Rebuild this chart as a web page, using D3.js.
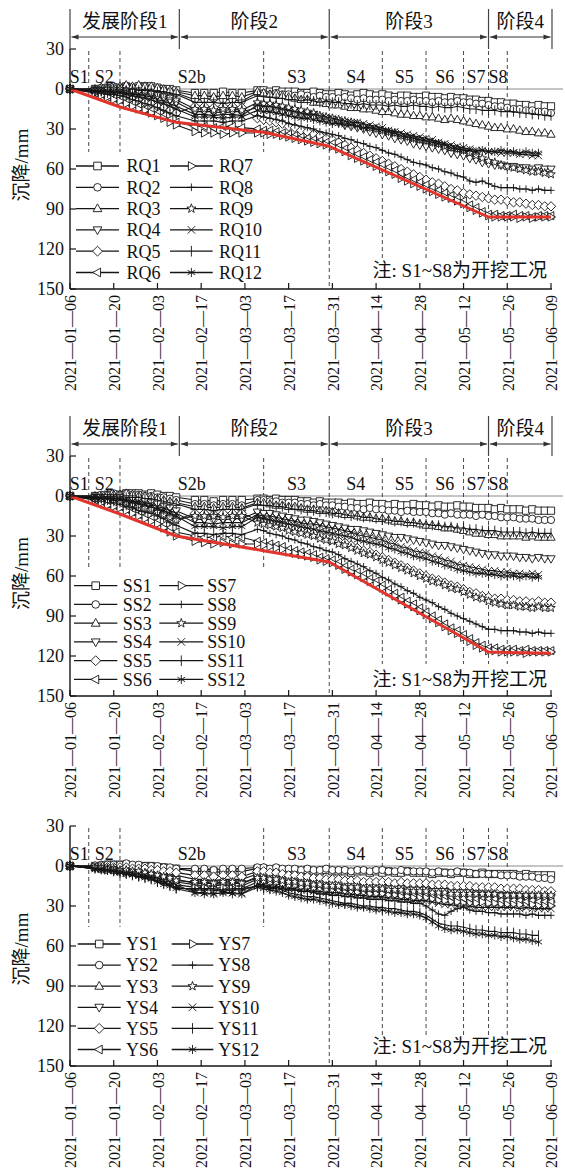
<!DOCTYPE html>
<html>
<head>
<meta charset="utf-8">
<script src="https://cdn.jsdelivr.net/npm/d3@7/dist/d3.min.js"></script>
<style>
  body { margin: 0; background: #fff; }
  svg { display: block; }
  text { font-family: "Liberation Serif", "Noto Sans CJK SC", serif; fill: #111; }
</style>
</head>
<body>
<svg id="chart" width="565" height="1174"></svg>
<script>
// ---- observation dates (2021, MM-DD) ----
const dates = ["01-06",
  "01-14","01-16","01-18","01-20","01-22","01-24","01-26","01-28","01-30","02-01","02-03","02-05","02-07","02-09",
  "02-15","02-18","02-21","02-24","02-27","03-02",
  "03-07","03-09","03-11","03-13","03-15","03-17","03-19","03-21","03-23","03-25","03-27","03-29","03-31",
  "04-02","04-04","04-06","04-08","04-10","04-12","04-14","04-16","04-18","04-20","04-22","04-24","04-26","04-28","04-30",
  "05-02","05-04","05-06","05-08","05-10","05-12","05-14","05-16","05-18","05-20","05-22","05-24","05-26","05-28","05-30",
  "06-01","06-03","06-05","06-07","06-09"];

// ---- settlement (mm), group RQ ----
const RQ1 = [0, 0,0,-1,-1,-1,-2,-1,-2,-2,-2,-1,0,0,1, 3,3,3,2,3,3, 1, 1,2,1,2,2, 2,3,3,2,3,4,4, 3,4,5,4,3,4,5, 4,5,6,5,5,6,6, 5,6,6,7,6,7,7, 8,8,9,9, 10,10,11, 11,12,12,13,12,13,13];
const RQ2 = [0, 0,-1,-1,-2,-1,-2,-1,-1,-2,-1,0,1,2,3, 8,8,7,8,8,9, 3, 3,4,3,4,4, 5,4,5,6,5,6,6, 7,6,7,8,7,8,8, 8,9,8,9,9,8,9, 9,10,9,10,10,9,10, 10,11,11,12, 13,13,14, 15,15,16,16,17,17,18];
const RQ3 = [0, 0,-1,-1,-2,-2,-3,-2,-3,-2,-2,-1,0,1,2, 5,5,6,5,5,6, 2, 3,4,4,5,6, 7,8,8,10,10,11,12, 12,13,14,14,15,15,16, 17,17,18,19,19,20,20, 21,21,22,23,22,23,24, 25,26,27,28, 29,29,30, 30,31,32,32,33,33,34];
const RQ4 = [0, 1,1,1,1,1,2,2,3,3,4,5,7,8,10, 17,17,17,18,17,17, 14, 15,15,16,17,18, 19,19,20,21,22,23,24, 25,27,28,29,30,32,33, 34,35,37,38,39,41,42, 43,44,45,46,48,49,50, 52,53,55,56, 57,57,58, 58,59,59,60,59,60,60];
const RQ5 = [0, 2,2,3,4,5,6,7,8,10,11,13,14,16,18, 13,13,14,13,13,14, 22, 23,24,25,26,28, 29,31,32,34,35,37,38, 40,42,44,46,48,50,52, 54,56,58,60,62,64,66, 68,70,71,73,75,76,78, 79,80,81,82, 83,83,84, 85,85,86,87,87,88,88];
const RQ6 = [0, 3,4,6,7,8,10,11,13,15,16,18,20,23,25, 28,28,29,28,28,29, 30, 31,31,32,33,34, 35,36,37,38,39,40,41, 43,45,47,49,51,53,55, 57,59,61,63,66,68,70, 72,74,76,78,80,82,84, 87,89,92,94, 94,95,95, 94,95,95,96,95,95,95];
const RQ7 = [0, 3,5,6,8,9,11,13,15,16,18,20,22,25,27, 32,33,33,34,33,33, 33, 33,34,34,35,36, 37,38,39,40,41,42,43, 45,47,50,52,54,56,58, 60,62,64,67,69,71,73, 75,77,79,81,82,84,86, 89,91,93,95, 96,96,96, 96,97,96,97,96,96,96];
const RQ8 = [0, 2,3,4,4,5,6,8,9,11,12,14,16,18,20, 24,24,24,25,24,24, 20, 21,22,23,24,26, 27,28,29,30,32,33,34, 35,37,38,40,41,43,44, 46,48,49,51,53,55,56, 57,59,60,62,63,65,66, 69,70,69,71, 73,74,74, 74,75,75,76,75,76,76];
const RQ9 = [0, 1,1,0,0,0,1,1,2,2,3,4,5,6,8, 15,15,16,15,15,16, 10, 11,11,12,13,14, 15,16,17,18,20,21,22, 23,24,25,26,28,29,30, 31,32,33,35,36,37,38, 39,40,41,43,44,45,46, 48,50,52,54, 55,57,58, 59,60,61,62,62,63,64];
const RQ10 = [0, 1,1,2,2,2,3,4,4,5,6,8,9,11,13, 19,19,20,19,19,20, 12, 13,13,14,15,16, 17,18,19,19,20,21,22, 23,24,25,25,26,27,28, 29,31,32,33,34,35,36, 37,38,40,41,42,43,44, 45,46,46,47, 47,48,48, 48,49,49,50,50,null,null];
const RQ11 = [0, 1,1,0,0,0,1,0,1,1,1,2,2,3,4, 10,10,10,11,10,10, 5, 6,6,7,7,8, 8,9,8,9,10,9,10, 10,11,11,12,11,12,12, 12,13,12,13,13,12,13, 13,14,13,14,14,13,14, 15,15,16,16, 16,17,17, 17,18,18,19,19,20,20];
const RQ12 = [0, 2,2,2,3,3,4,5,6,7,8,10,11,13,15, 21,21,21,22,21,21, 16, 17,17,18,19,20, 21,22,22,23,24,25,26, 26,27,27,28,29,29,30, 31,32,33,35,36,37,38, 39,40,41,42,44,45,46, 46,47,46,47, 47,46,47, 47,48,47,48,48,null,null];

// ---- settlement (mm), group SS ----
const SS1 = [0, 0,0,-1,-1,-1,-2,-2,-2,-1,-2,-1,0,0,1, 3,3,4,3,3,3, 2, 2,3,2,3,3, 3,4,4,5,4,5,5, 5,6,5,6,6,5,6, 6,7,6,7,7,6,7, 7,8,7,8,8,7,8, 8,9,9,9, 10,9,10, 10,10,11,10,11,11,11];
const SS2 = [0, 0,-1,-1,-2,-1,-2,-1,-1,0,0,1,1,2,3, 6,6,7,6,6,7, 3, 3,4,4,5,5, 5,6,6,7,6,7,7, 8,8,9,9,10,9,10, 10,11,11,12,11,12,12, 12,13,13,14,13,14,14, 14,15,14,15, 15,16,16, 16,17,17,17,18,18,18];
const SS3 = [0, 0,0,-1,-1,-1,-2,-1,0,0,1,2,3,4,5, 8,8,9,8,8,9, 5, 5,6,7,7,8, 8,9,10,10,11,11,12, 13,14,14,15,16,16,17, 17,18,19,19,20,20,21, 22,22,23,24,24,25,26, 27,28,28,29, 29,30,30, 30,30,31,30,31,31,31];
const SS4 = [0, 1,1,1,1,1,2,2,3,4,5,6,8,9,11, 17,18,17,18,17,17, 12, 13,13,14,15,16, 17,18,18,19,20,21,22, 23,24,25,25,26,27,28, 29,30,31,31,32,33,34, 35,36,37,37,38,39,40, 41,42,43,44, 44,45,45, 45,46,46,47,46,47,47];
const SS5 = [0, 2,2,3,3,4,5,6,8,9,10,12,14,16,18, 13,13,14,13,13,13, 18, 19,20,21,22,24, 25,26,27,28,30,31,32, 34,35,37,39,41,42,44, 46,48,50,52,54,56,58, 60,62,63,65,67,68,70, 72,73,75,76, 77,77,78, 78,79,79,80,79,80,80];
const SS6 = [0, 3,4,6,7,8,10,12,14,15,17,19,22,24,27, 30,31,31,30,31,31, 34, 35,36,37,38,40, 41,42,43,44,46,47,48, 50,53,55,57,59,62,64, 67,70,73,76,79,81,84, 87,90,93,96,99,101,104, 107,110,112,114, 114,115,115, 115,116,115,116,116,116,116];
const SS7 = [0, 3,5,7,8,9,11,13,15,17,19,21,24,27,30, 34,35,36,35,36,36, 36, 37,38,39,40,42, 43,44,45,46,48,49,50, 52,55,57,59,61,64,66, 69,72,75,78,81,83,86, 89,92,95,98,101,103,106, 109,112,114,116, 116,117,117, 117,117,118,117,117,117,117];
const SS8 = [0, 2,3,4,5,6,8,9,11,12,13,15,17,20,22, 28,28,29,28,28,29, 25, 26,28,29,30,32, 33,35,36,38,39,41,42, 44,47,49,51,53,56,58, 61,63,66,68,71,73,76, 78,80,83,85,88,90,92, 94,96,98,100, 100,101,101, 101,102,102,103,102,103,103];
const SS9 = [0, 2,2,3,3,4,5,6,7,9,10,12,14,16,18, 15,15,15,16,15,15, 20, 21,22,23,24,26, 27,28,29,30,32,33,34, 36,37,39,41,43,44,46, 48,50,52,54,56,58,60, 62,64,65,67,69,70,72, 74,76,77,79, 80,81,82, 82,83,83,84,83,84,84];
const SS10 = [0, 1,1,2,2,2,3,4,4,5,6,8,9,11,13, 20,20,21,20,20,20, 14, 15,15,16,17,18, 19,20,21,21,22,23,24, 25,26,27,29,30,31,32, 33,35,36,38,39,41,42, 43,45,46,48,49,51,52, 53,54,55,56, 56,57,57, 58,58,59,58,59,null,null];
const SS11 = [0, 1,1,0,0,0,1,1,1,2,2,3,4,5,6, 10,10,11,10,10,10, 6, 7,7,8,8,9, 10,10,11,11,12,12,13, 13,14,15,15,16,16,17, 18,18,19,19,20,20,21, 21,22,22,23,23,24,24, 25,25,26,26, 26,27,27, 27,27,28,27,28,28,28];
const SS12 = [0, 2,2,2,3,3,4,5,6,7,8,10,11,13,15, 23,23,23,24,23,23, 16, 17,18,19,20,21, 22,23,24,25,26,27,28, 29,30,31,33,34,35,36, 37,39,40,42,43,45,46, 47,49,50,52,53,55,56, 57,58,58,59, 59,60,60, 60,61,60,61,61,null,null];

// ---- settlement (mm), group YS ----
const YS1 = [0, 0,0,-1,-1,-1,-1,0,0,0,0,1,1,2,2, 4,4,4,5,4,4, 2, 2,3,2,3,3, 3,4,3,4,4,3,4, 4,4,5,4,4,5,4, 5,4,5,5,4,5,5, 5,6,5,5,6,5,5, 6,6,5,6, 6,6,6, 6,7,6,7,7,7,7];
const YS2 = [0, 0,-1,-1,-1,-1,-2,-1,-1,0,0,0,1,1,2, 2,2,3,2,2,2, 1, 1,2,1,2,2, 2,3,2,3,3,2,3, 3,3,4,3,3,4,3, 3,4,4,3,4,4,4, 4,5,4,5,5,4,5, 5,6,6,6, 6,7,7, 7,8,8,8,9,9,10];
const YS3 = [0, 1,1,1,2,2,2,3,3,3,4,5,5,6,7, 10,10,11,10,10,10, 6, 6,7,7,8,9, 9,10,10,11,11,12,12, 12,13,13,13,14,14,14, 14,15,15,15,16,16,16, 16,17,17,17,18,18,18, 19,19,20,20, 21,21,22, 22,23,23,24,24,25,25];
const YS4 = [0, 1,2,2,3,3,4,4,5,5,6,7,8,9,10, 13,13,13,14,13,13, 8, 8,9,9,10,11, 11,12,12,13,13,14,14, 14,15,15,15,16,16,16, 16,17,17,17,18,18,18, 18,19,19,19,20,20,20, 20,21,21,21, 22,22,22, 22,23,23,23,24,24,24];
const YS5 = [0, 0,0,1,1,1,1,2,2,2,3,3,4,4,5, 7,7,8,7,7,8, 4, 4,5,5,6,7, 7,8,8,9,9,10,10, 10,11,11,11,12,12,12, 12,12,13,12,13,13,13, 13,14,14,14,15,15,15, 15,16,16,16, 16,17,17, 17,17,18,18,18,19,19];
const YS6 = [0, 1,2,2,3,3,4,5,5,6,7,8,9,10,12, 14,15,15,14,15,15, 10, 10,11,11,12,13, 13,14,14,15,16,16,17, 17,18,18,18,19,19,19, 19,20,20,20,21,21,21, 21,22,22,23,23,24,24, 24,25,25,25, 25,26,26, 26,26,27,26,27,27,27];
const YS7 = [0, 1,2,3,3,4,5,5,6,7,8,9,11,12,14, 16,16,17,16,17,17, 12, 12,13,13,14,15, 15,16,16,17,18,18,19, 19,20,20,20,21,21,21, 21,22,22,23,23,24,24, 24,25,26,26,27,27,28, 28,28,27,28, 28,29,29, 29,29,30,29,30,30,30];
const YS8 = [0, 2,2,3,4,5,6,7,8,8,9,11,12,14,16, 18,18,18,19,18,18, 15, 15,16,16,17,18, 18,19,19,20,21,21,22, 22,23,23,24,24,25,25, 25,26,26,27,27,28,28, 30,33,36,37,34,32,31, 33,34,34,35, 35,36,36, 36,36,37,36,37,37,37];
const YS9 = [0, 1,1,2,2,3,3,4,4,5,6,7,8,9,11, 12,12,13,12,12,13, 9, 9,10,10,11,12, 12,13,13,14,14,15,15, 15,16,16,16,17,17,17, 17,18,18,18,19,19,19, 19,20,20,20,21,21,21, 21,21,21,21, 21,22,22, 22,22,22,22,22,22,22];
const YS10 = [0, 2,2,3,3,4,5,5,6,7,8,9,11,12,14, 20,20,21,20,20,21, 14, 14,15,15,16,17, 17,18,18,19,19,20,20, 20,21,21,22,22,23,23, 23,24,24,25,25,26,26, 26,27,28,29,29,30,30, 30,31,31,31, 31,31,31, 31,32,31,32,32,32,32];
const YS11 = [0, 2,2,3,4,5,6,7,8,9,10,12,13,15,17, 17,17,17,18,17,17, 15, 16,17,17,18,20, 21,22,23,23,24,25,26, 27,28,28,29,30,30,31, 31,32,32,33,34,34,35, 37,40,43,44,45,45,46, 47,48,48,49, 49,50,50, 50,51,51,52,52,null,null];
const YS12 = [0, 2,3,3,4,5,6,7,8,9,10,12,14,15,17, 20,21,21,20,21,21, 16, 17,18,19,20,22, 23,24,25,25,26,27,28, 29,29,30,31,31,32,33, 33,34,35,35,36,36,37, 39,42,45,47,48,48,49, 50,51,51,52, 52,53,53, 54,55,55,56,57,null,null];

// ---- maximum-settlement envelopes ----
const redDates = ["01-06","01-22","02-09","03-09","03-30","05-20","06-09"];
const redRQ = [0, 13.5, 25, 32.5, 43, 96, 96];
const redSS = [0, 13.5, 30, 41, 49.5, 117, 118];

// ---- axes, stages, phases ----
const tickDates = ["2021-01-06","2021-01-20","2021-02-03","2021-02-17","2021-03-03","2021-03-17",
                   "2021-03-31","2021-04-14","2021-04-28","2021-05-12","2021-05-26","2021-06-09"];
const yTicks = [-30, 0, 30, 60, 90, 120, 150];
const stageBounds = ["01-06","01-12","01-22","03-09","03-30","04-16","04-30","05-12","05-20","05-26"];
const stageLabels = ["S1","S2","S2b","S3","S4","S5","S6","S7","S8"];
const phaseBounds = ["01-06","02-10","03-30","05-20","06-09"];
const phaseLabels = ["发展阶段1","阶段2","阶段3","阶段4"];
const markerKinds = ["square","circle","triUp","triDown","diamond","triLeft","triRight","plus","star","times","vbar","asterisk"];
const noteText = "注: S1~S8为开挖工况";
const yTitle = "沉降/mm";

// ---- layout ----
const parse = s => new Date("2021-" + s + "T00:00:00");
const x = d3.scaleTime().domain([parse("01-06"), parse("06-09")]).range([70, 551]);
const svg = d3.select("#chart");
const INK = "#151515";

const panels = [
  { prefix: "RQ", series: [RQ1,RQ2,RQ3,RQ4,RQ5,RQ6,RQ7,RQ8,RQ9,RQ10,RQ11,RQ12], red: redRQ, header: true,
    y0: 89, titleY: 165, noteY: 277, shortEnd: 152, longEnd: 258,
    legend: { y: 166, dy: 21.3, cols: [[76,119,97.5,126.5],[170,212.7,191.4,219]] } },
  { prefix: "SS", series: [SS1,SS2,SS3,SS4,SS5,SS6,SS7,SS8,SS9,SS10,SS11,SS12], red: redSS, header: true,
    y0: 496, titleY: 573.5, noteY: 686, shortEnd: 570, longEnd: 664,
    legend: { y: 585.7, dy: 18.75, cols: [[74,117.3,95.7,122.7],[159.3,203.3,181.3,207.3]] } },
  { prefix: "YS", series: [YS1,YS2,YS3,YS4,YS5,YS6,YS7,YS8,YS9,YS10,YS11,YS12], red: null, header: false,
    y0: 866, titleY: 949, noteY: 1053, shortEnd: 927, longEnd: 1035,
    legend: { y: 944, dy: 21.1, cols: [[77.7,120.7,99.2,126],[171.7,213.3,192.5,218.3]] } }
];

function markerPath(kind, r) {
  switch (kind) {
    case "square":   return `M${-r},${-r}H${r}V${r}H${-r}Z`;
    case "circle":   return `M${r},0A${r},${r} 0 1 1 ${-r},0A${r},${r} 0 1 1 ${r},0Z`;
    case "triUp":    return `M0,${-r*1.25}L${r*1.15},${r*0.8}L${-r*1.15},${r*0.8}Z`;
    case "triDown":  return `M0,${r*1.25}L${r*1.15},${-r*0.8}L${-r*1.15},${-r*0.8}Z`;
    case "triLeft":  return `M${-r*1.25},0L${r*0.8},${-r*1.15}L${r*0.8},${r*1.15}Z`;
    case "triRight": return `M${r*1.25},0L${-r*0.8},${-r*1.15}L${-r*0.8},${r*1.15}Z`;
    case "diamond":  return `M0,${-r*1.3}L${r*1.3},0L0,${r*1.3}L${-r*1.3},0Z`;
    case "plus":     return `M${-r},0H${r}M0,${-r}V${r}`;
    case "vbar":     return `M0,${-r*1.4}V${r*1.4}`;
    case "times":    return `M${-r},${-r}L${r},${r}M${-r},${r}L${r},${-r}`;
    case "asterisk": return `M0,${-r*1.2}V${r*1.2}M${-r},${-r*0.6}L${r},${r*0.6}M${-r},${r*0.6}L${r},${-r*0.6}`;
    case "star": {
      let p = "";
      for (let k = 0; k < 10; k++) {
        const rr = k % 2 ? r * 0.5 : r * 1.25;
        const a = -Math.PI / 2 + k * Math.PI / 5;
        p += (k ? "L" : "M") + (rr * Math.cos(a)).toFixed(2) + "," + (rr * Math.sin(a)).toFixed(2);
      }
      return p + "Z";
    }
  }
}
const hollow = new Set(["square","circle","triUp","triDown","triLeft","triRight","diamond","star"]);

function drawMarker(g, kind, cx, cy, r, sw) {
  g.append("path")
    .attr("d", markerPath(kind, r))
    .attr("transform", `translate(${cx},${cy})`)
    .attr("fill", hollow.has(kind) ? "#fff" : "none")
    .attr("stroke", INK)
    .attr("stroke-width", sw);
}

panels.forEach(p => {
  const y = d3.scaleLinear().domain([-30, 150]).range([p.y0 - 40, p.y0 + 200]);
  const g = svg.append("g");
  const yBottom = y(150), yTop = y(-30);

  // zero reference line
  g.append("line").attr("x1", 70).attr("x2", 563).attr("y1", y(0)).attr("y2", y(0))
    .attr("stroke", "#8a8a8a").attr("stroke-width", 1);

  // excavation stage boundaries
  stageBounds.slice(1).forEach((s, i) => {
    const xx = x(parse(s));
    const end = i < 3 ? p.shortEnd : (s === "03-30" ? yBottom : p.longEnd);
    g.append("line").attr("x1", xx).attr("x2", xx).attr("y1", yTop + 2).attr("y2", end)
      .attr("stroke", "#333").attr("stroke-width", 0.9).attr("stroke-dasharray", "4,3");
  });

  // settlement series
  const line = d3.line()
    .defined(d => d.v !== null)
    .x(d => x(d.t)).y(d => y(d.v));
  p.series.forEach((vals, si) => {
    const pts = vals.map((v, i) => ({ t: parse(dates[i]), v }));
    const sg = g.append("g");
    sg.append("path").datum(pts).attr("d", line)
      .attr("fill", "none").attr("stroke", INK).attr("stroke-width", 1.1);
    pts.filter(d => d.v !== null).forEach(d => drawMarker(sg, markerKinds[si], x(d.t), y(d.v), 3.6, 0.9));
  });

  // envelope of maximum settlement
  if (p.red) {
    const rl = d3.line().x(d => x(d.t)).y(d => y(d.v));
    g.append("path").datum(p.red.map((v, i) => ({ t: parse(redDates[i]), v })))
      .attr("d", rl).attr("fill", "none").attr("stroke", "#e3342b").attr("stroke-width", 3)
      .attr("stroke-linejoin", "round");
  }

  // y axis
  g.append("line").attr("x1", 70).attr("x2", 70).attr("y1", yTop).attr("y2", yBottom)
    .attr("stroke", INK).attr("stroke-width", 1.4);
  yTicks.forEach(t => {
    g.append("line").attr("x1", 70).attr("x2", 76).attr("y1", y(t)).attr("y2", y(t))
      .attr("stroke", INK).attr("stroke-width", 1.2);
    g.append("text").attr("x", 64).attr("y", y(t)).attr("dy", "0.36em")
      .attr("text-anchor", "end").attr("font-size", 18).text(Math.abs(t));
  });
  g.append("text")
    .attr("transform", `translate(21,${p.titleY}) rotate(-90)`)
    .attr("text-anchor", "middle").attr("dy", "0.35em").attr("font-size", 19).text(yTitle);

  // x axis
  g.append("line").attr("x1", 70).attr("x2", 552).attr("y1", yBottom).attr("y2", yBottom)
    .attr("stroke", INK).attr("stroke-width", 1.4);
  const fmt = d3.timeFormat("%Y\u2014%m\u2014%d");
  tickDates.forEach(s => {
    const d = new Date(s + "T00:00:00");
    const xx = x(d);
    g.append("line").attr("x1", xx).attr("x2", xx).attr("y1", yBottom).attr("y2", yBottom - 6)
      .attr("stroke", INK).attr("stroke-width", 1.2);
    g.append("text")
      .attr("transform", `translate(${xx},${yBottom + 6}) rotate(-90)`)
      .attr("text-anchor", "end").attr("dy", "0.36em").attr("font-size", 17.5)
      .attr("textLength", 96).attr("lengthAdjust", "spacingAndGlyphs").text(fmt(d));
  });

  // stage labels
  stageLabels.forEach((lab, i) => {
    const xm = (x(parse(stageBounds[i])) + x(parse(stageBounds[i + 1]))) / 2;
    g.append("text").attr("x", xm).attr("y", y(0) - 6).attr("text-anchor", "middle")
      .attr("font-size", 18).text(lab);
  });

  // phase header
  if (p.header) {
    const top = p.y0 - 80, ay = p.y0 - 52;
    phaseBounds.forEach(s => {
      const xx = x(parse(s)) + (s === "06-09" ? 1 : 0);
      g.append("line").attr("x1", xx).attr("x2", xx).attr("y1", top).attr("y2", yTop)
        .attr("stroke", "#444").attr("stroke-width", 1.2);
    });
    phaseLabels.forEach((lab, i) => {
      const xa = x(parse(phaseBounds[i])) + 1.5;
      const xb = x(parse(phaseBounds[i + 1])) - 1.5 + (i === 3 ? 1 : 0);
      g.append("line").attr("x1", xa).attr("x2", xb).attr("y1", ay).attr("y2", ay)
        .attr("stroke", "#333").attr("stroke-width", 1);
      g.append("path").attr("d", `M${xa},${ay}L${xa + 7},${ay - 2.6}L${xa + 7},${ay + 2.6}Z`).attr("fill", "#333");
      g.append("path").attr("d", `M${xb},${ay}L${xb - 7},${ay - 2.6}L${xb - 7},${ay + 2.6}Z`).attr("fill", "#333");
      g.append("text").attr("x", (xa + xb) / 2).attr("y", p.y0 - 68).attr("dy", "0.36em")
        .attr("text-anchor", "middle").attr("font-size", 19).text(lab);
    });
  }

  // legend
  p.series.forEach((_, si) => {
    const col = p.legend.cols[si < 6 ? 0 : 1];
    const ly = p.legend.y + (si % 6) * p.legend.dy;
    g.append("line").attr("x1", col[0]).attr("x2", col[1]).attr("y1", ly).attr("y2", ly)
      .attr("stroke", INK).attr("stroke-width", 1.3);
    drawMarker(g, markerKinds[si], col[2], ly, 3.8, 0.9);
    g.append("text").attr("x", col[3]).attr("y", ly).attr("dy", "0.35em")
      .attr("font-size", 18).text(p.prefix + (si + 1));
  });

  // note
  g.append("text").attr("x", 547).attr("y", p.noteY).attr("text-anchor", "end")
    .attr("font-size", 19).text(noteText);
});
</script>
</body>
</html>
